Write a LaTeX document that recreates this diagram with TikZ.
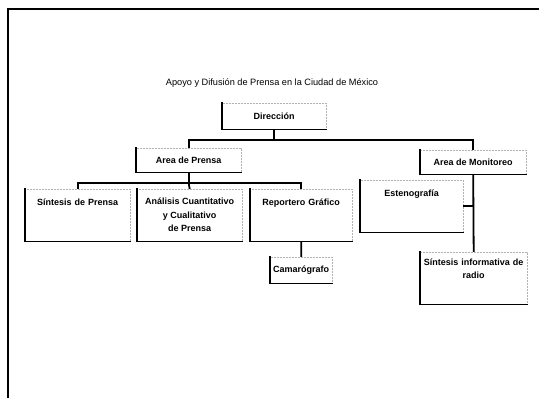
\documentclass[tikz,border=0pt]{standalone}
\usepackage{fontspec}
\setmainfont{Liberation Sans}
\usetikzlibrary{positioning}

\tikzset{
    orgbox/.style={draw=gray!60, dash pattern=on 2pt off 1pt, thin, anchor=north west,
        align=center, inner sep=3pt, font=\fontsize{9}{13.5}\selectfont\bfseries,
        append after command={(\tikzlastnode.north west) edge[solid, draw=black, line width=1.5pt, line cap=rect] (\tikzlastnode.south west)
            (\tikzlastnode.south west) edge[solid, draw=black, line width=1.5pt, line cap=rect] (\tikzlastnode.south east)}},
    topbox/.style={text height=13pt, text depth=#1},
    link/.style={line width=1.8pt},
}

\begin{document}
\begin{tikzpicture}[x=1pt,y=-1pt]
    \useasboundingbox (0,0) rectangle (539,398);
    \draw[line width=1.5pt] (539,9) -- (8,9) -- (8,398);

    \node[font=\fontsize{9.2}{11}\selectfont] (title) at (272,83) {Apoyo y Difusión de Prensa en la Ciudad de México};

    \node[orgbox,minimum width=104pt,minimum height=26pt] (dir) at (222,103) {Dirección};
    \node[orgbox,minimum width=105pt,minimum height=24pt] (prensa) at (136,148) {Area de Prensa};
    \node[orgbox,minimum width=106pt,minimum height=24pt] (monit) at (420,150) {Area de Monitoreo};

    \node[orgbox,topbox=33pt,text width=99pt] (sintesis) at (25,189) {Síntesis de Prensa};
    \node[orgbox,minimum width=105pt,minimum height=52pt] (analisis) at (137,189) {Análisis Cuantitativo\\y Cualitativo\\de Prensa};
    \node[orgbox,topbox=33pt,text width=96pt] (reportero) at (250,189) {Reportero Gráfico};
    \node[orgbox,minimum width=62pt,minimum height=26pt] (camara) at (270,257) {Camarógrafo};

    \node[orgbox,topbox=33pt,text width=97pt] (esteno) at (360,180) {Estenografía};
    \node[orgbox,text height=10pt,text depth=36pt,text width=101pt] (radio) at (420,252) {Síntesis informativa de\\radio};

    \draw[link] (dir.south) -- ++(0,11) coordinate (busdir);
    \draw[link] (busdir) -| (prensa.north);
    \draw[link] (busdir) -| (monit.north);

    \draw[link] (prensa.south) -- ++(0,11) coordinate (busprensa);
    \draw[link] (busprensa) -| (sintesis.north);
    \draw[link] (busprensa) -- (analisis.north);
    \draw[link] (busprensa) -| (reportero.north);

    \draw[link] (reportero.south) -- (camara.north);

    \draw[link] (monit.south) -- (radio.north);
    \draw[link] (esteno.east) -- (esteno.east -| radio.north);
\end{tikzpicture}
\end{document}
